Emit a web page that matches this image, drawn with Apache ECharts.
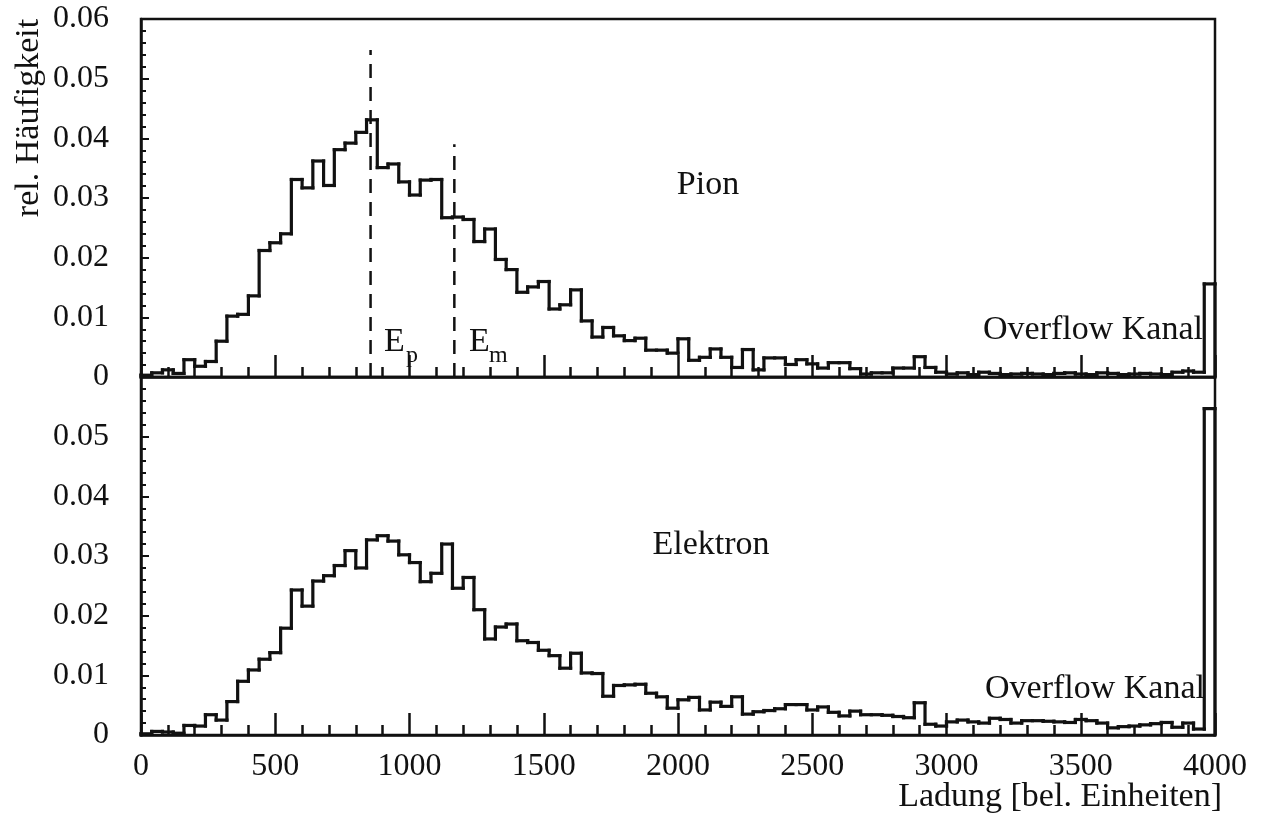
<!DOCTYPE html>
<html>
<head>
<meta charset="utf-8">
<script src="https://cdn.jsdelivr.net/npm/echarts@6/dist/echarts.min.js"></script>
<style>
html,body{margin:0;padding:0;background:#fff;}
#chart{width:1265px;height:819px;}
</style>
</head>
<body>
<div id="chart"></div>
<script>
// Histogram bins: 100 channels of width 40 from 0 to 4000 (last = overflow channel)
const binWidth = 40;
const xTickLabels = ['0','500','1000','1500','2000','2500','3000','3500','4000'];
const yTickLabelsTop = ['0','0.01','0.02','0.03','0.04','0.05','0.06'];
const yTickLabelsBottom = ['0','0.01','0.02','0.03','0.04','0.05',''];

const pion = [
  0.0003,0.0007,0.0012,0.0006,0.0029,0.0018,0.0026,0.0060,0.0102,0.0105,
  0.0136,0.0212,0.0225,0.0240,0.0331,0.0317,0.0362,0.0321,0.0381,0.0392,
  0.0410,0.0431,0.0351,0.0357,0.0327,0.0305,0.0330,0.0331,0.0267,0.0268,
  0.0264,0.0227,0.0248,0.0197,0.0180,0.0142,0.0151,0.0160,0.0114,0.0121,
  0.0146,0.0094,0.0067,0.0083,0.0069,0.0061,0.0065,0.0045,0.0045,0.0040,
  0.0064,0.0028,0.0033,0.0047,0.0033,0.0016,0.0046,0.0012,0.0032,0.0032,
  0.0021,0.0029,0.0022,0.0015,0.0024,0.0024,0.0014,0.0005,0.0007,0.0007,
  0.0015,0.0015,0.0034,0.0016,0.0008,0.0005,0.0007,0.0004,0.0008,0.0006,
  0.0004,0.0005,0.0006,0.0005,0.0004,0.0006,0.0007,0.0005,0.0004,0.0007,
  0.0006,0.0004,0.0005,0.0006,0.0005,0.0004,0.0008,0.0010,0.0008,0.0156
];

const elektron = [
  0.0002,0.0006,0.0005,0.0003,0.0016,0.0015,0.0034,0.0025,0.0056,0.0090,
  0.0109,0.0127,0.0138,0.0179,0.0243,0.0216,0.0258,0.0267,0.0284,0.0309,
  0.0280,0.0327,0.0334,0.0325,0.0302,0.0289,0.0257,0.0271,0.0320,0.0246,
  0.0264,0.0210,0.0161,0.0181,0.0186,0.0158,0.0155,0.0142,0.0133,0.0112,
  0.0137,0.0104,0.0103,0.0065,0.0083,0.0084,0.0085,0.0070,0.0064,0.0045,
  0.0059,0.0063,0.0042,0.0055,0.0048,0.0064,0.0035,0.0039,0.0041,0.0044,
  0.0051,0.0051,0.0042,0.0047,0.0038,0.0032,0.0040,0.0034,0.0034,0.0033,
  0.0031,0.0029,0.0054,0.0018,0.0015,0.0022,0.0025,0.0022,0.0020,0.0028,
  0.0026,0.0020,0.0024,0.0024,0.0023,0.0022,0.0021,0.0026,0.0024,0.0020,
  0.0012,0.0014,0.0015,0.0017,0.0019,0.0021,0.0013,0.0020,0.0010,0.0547
];

// Marker lines E_p and E_m (position, top value)
const epLine = [[855, 0], [855, 0.0548]];
const emLine = [[1167, 0], [1167, 0.039]];

// One item per bin: [left edge, right edge, height, next bin height, previous bin height]
function binItems(vals) {
  return vals.map((v, i) => [
    i * binWidth, (i + 1) * binWidth, v,
    i + 1 < vals.length ? vals[i + 1] : 0,
    i > 0 ? vals[i - 1] : 0
  ]);
}

const FONT = 'Liberation Serif';
const black = '#111';
const HIST_W = 3.2;

function renderBin(params, api) {
  const x0 = api.value(0), x1 = api.value(1), v = api.value(2), vn = api.value(3), vp = api.value(4);
  const a = api.coord([x0, v]);
  const b = api.coord([x1, v]);
  const c = api.coord([x1, vn]);
  const st = { stroke: black, lineWidth: HIST_W, lineCap: 'square', fill: null };
  const children = [
    { type: 'line', shape: { x1: a[0], y1: a[1], x2: b[0], y2: b[1] }, style: st },
    { type: 'line', shape: { x1: b[0], y1: b[1], x2: c[0], y2: c[1] }, style: st }
  ];
  if (params.dataIndex === 0) {
    const z = api.coord([x0, vp]);
    children.push({ type: 'line', shape: { x1: z[0], y1: z[1], x2: a[0], y2: a[1] }, style: st });
  }
  return { type: 'group', children: children };
}

function xAxisCfg(gridIndex, showLabels) {
  return {
    type: 'value', gridIndex: gridIndex, min: 0, max: 4000, interval: 500,
    axisLine: { show: true, lineStyle: { color: black, width: 2.5 } },
    axisTick: { show: true, inside: true, length: 22, lineStyle: { color: black, width: 2.5 } },
    minorTick: { show: true, splitNumber: 5, length: 10, lineStyle: { color: black, width: 2.5 } },
    splitLine: { show: false },
    axisLabel: {
      show: showLabels, margin: 16, color: black, fontFamily: FONT, fontSize: 32,
      formatter: (v) => xTickLabels[Math.round(v / 500)]
    }
  };
}

function yAxisCfg(gridIndex, labels) {
  return {
    type: 'value', gridIndex: gridIndex, min: 0, max: 0.06, interval: 0.01,
    axisLine: { show: true, lineStyle: { color: black, width: 2.5 } },
    axisTick: { show: true, inside: true, length: 8, lineStyle: { color: black, width: 2 } },
    minorTick: { show: true, splitNumber: 5, length: 5, lineStyle: { color: black, width: 2 } },
    splitLine: { show: false },
    axisLabel: {
      show: true, margin: 32, color: black, fontFamily: FONT, fontSize: 32,
      formatter: (v) => labels[Math.round(v / 0.01)]
    }
  };
}

const option = {
  backgroundColor: '#fff',
  animation: false,
  grid: [
    { left: 141, top: 19, width: 1074, height: 358, show: true, borderColor: black, borderWidth: 2.5, backgroundColor: 'transparent' },
    { left: 141, top: 377, width: 1074, height: 358, show: true, borderColor: black, borderWidth: 2.5, backgroundColor: 'transparent' }
  ],
  xAxis: [xAxisCfg(0, false), xAxisCfg(1, true)],
  yAxis: [yAxisCfg(0, yTickLabelsTop), yAxisCfg(1, yTickLabelsBottom)],
  series: [
    { name: 'Pion', type: 'custom', xAxisIndex: 0, yAxisIndex: 0, renderItem: renderBin,
      encode: { x: [0, 1], y: [2, 3] }, data: binItems(pion), clip: false },
    { name: 'Elektron', type: 'custom', xAxisIndex: 1, yAxisIndex: 1, renderItem: renderBin,
      encode: { x: [0, 1], y: [2, 3] }, data: binItems(elektron), clip: false },
    { name: 'Ep', type: 'line', xAxisIndex: 0, yAxisIndex: 0, symbol: 'none', data: epLine,
      lineStyle: { color: black, width: 2.5, type: [14, 9] } },
    { name: 'Em', type: 'line', xAxisIndex: 0, yAxisIndex: 0, symbol: 'none', data: emLine,
      lineStyle: { color: black, width: 2.5, type: [14, 9] } }
  ],
  graphic: [
    { type: 'text', x: 29, y: 118, rotation: Math.PI / 2,
      style: { text: 'rel. Häufigkeit', font: '34px "Liberation Serif"', fill: black, textAlign: 'center', textVerticalAlign: 'middle' } },
    { type: 'text', x: 1222, y: 797,
      style: { text: 'Ladung [bel. Einheiten]', font: '34px "Liberation Serif"', fill: black, textAlign: 'right', textVerticalAlign: 'middle' } },
    { type: 'text', x: 708, y: 185,
      style: { text: 'Pion', font: '34px "Liberation Serif"', fill: black, textAlign: 'center', textVerticalAlign: 'middle' } },
    { type: 'text', x: 711, y: 545,
      style: { text: 'Elektron', font: '34px "Liberation Serif"', fill: black, textAlign: 'center', textVerticalAlign: 'middle' } },
    { type: 'text', x: 1203, y: 330,
      style: { text: 'Overflow Kanal', font: '34px "Liberation Serif"', fill: black, textAlign: 'right', textVerticalAlign: 'middle' } },
    { type: 'text', x: 1205, y: 689,
      style: { text: 'Overflow Kanal', font: '34px "Liberation Serif"', fill: black, textAlign: 'right', textVerticalAlign: 'middle' } },
    { type: 'text', x: 384, y: 342,
      style: { text: 'E', font: '34px "Liberation Serif"', fill: black, textAlign: 'left', textVerticalAlign: 'middle' } },
    { type: 'text', x: 406, y: 356,
      style: { text: 'p', font: '24px "Liberation Serif"', fill: black, textAlign: 'left', textVerticalAlign: 'middle' } },
    { type: 'text', x: 469, y: 342,
      style: { text: 'E', font: '34px "Liberation Serif"', fill: black, textAlign: 'left', textVerticalAlign: 'middle' } },
    { type: 'text', x: 489, y: 356,
      style: { text: 'm', font: '24px "Liberation Serif"', fill: black, textAlign: 'left', textVerticalAlign: 'middle' } }
  ]
};

const chart = echarts.init(document.getElementById('chart'), null, { renderer: 'canvas' });
chart.setOption(option);
</script>
</body>
</html>
